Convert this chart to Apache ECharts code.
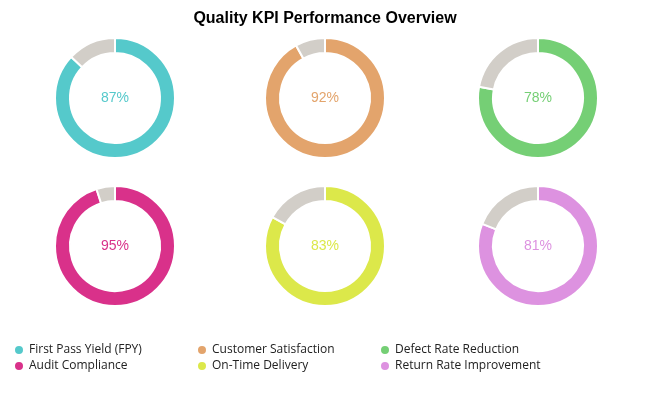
<!DOCTYPE html>
<html>
<head>
<meta charset="UTF-8"/>
<title>Quality KPI Performance Overview</title>
<script src="https://cdn.jsdelivr.net/npm/echarts@6/dist/echarts.min.js"></script>
<style>
html, body { margin: 0; padding: 0; background: #fff; }
#chart { width: 650px; height: 398px; }
</style>
</head>
<body>
<div id="chart"></div>
<script>
// KPI data
var kpiNames = ['First Pass Yield (FPY)', 'Customer Satisfaction', 'Defect Rate Reduction',
                'Audit Compliance', 'On-Time Delivery', 'Return Rate Improvement'];
var kpiValues = [87, 92, 78, 95, 83, 81];
var kpiColors = ['#55c9cb', '#e3a46c', '#75cf75', '#d9318a', '#dce84a', '#dd92e0'];
var restColor = '#d2cec8';

var centersX = [115, 325, 538];
var centersY = [98, 246];

var series = [];
for (var i = 0; i < kpiNames.length; i++) {
    series.push({
        type: 'pie',
        center: [centersX[i % 3], centersY[Math.floor(i / 3)]],
        radius: [45, 60],
        startAngle: 90,
        clockwise: true,
        silent: true,
        itemStyle: { borderColor: '#fff', borderWidth: 2 },
        labelLine: { show: false },
        emphasis: { disabled: true },
        data: [
            {
                name: kpiNames[i], value: kpiValues[i],
                itemStyle: { color: kpiColors[i] },
                label: {
                    show: true, position: 'center', formatter: '{c}%',
                    color: kpiColors[i], fontSize: 14,
                    fontFamily: 'Liberation Sans, Arial, sans-serif'
                }
            },
            {
                name: 'remaining', value: 100 - kpiValues[i],
                itemStyle: { color: restColor },
                label: { show: false }
            }
        ]
    });
}

var legendX = [8, 191, 374];
var legends = [];
for (var c = 0; c < 3; c++) {
    legends.push({
        orient: 'vertical',
        left: legendX[c],
        top: 339,
        icon: 'circle',
        itemWidth: 10,
        itemHeight: 10,
        itemGap: 4,
        selectedMode: false,
        textStyle: { fontSize: 12, color: '#222', fontFamily: 'Open Sans, Noto Sans, sans-serif' },
        data: [kpiNames[c], kpiNames[c + 3]]
    });
}

var myChart = echarts.init(document.getElementById('chart'));
var option = {
    animation: false,
    title: {
        text: 'Quality KPI Performance Overview',
        left: 'center',
        top: 6,
        textStyle: { fontSize: 16, fontWeight: 'bold', color: '#000', fontFamily: 'Liberation Sans, Arial, sans-serif' }
    },
    legend: legends,
    series: series
};
myChart.setOption(option);
</script>
</body>
</html>
